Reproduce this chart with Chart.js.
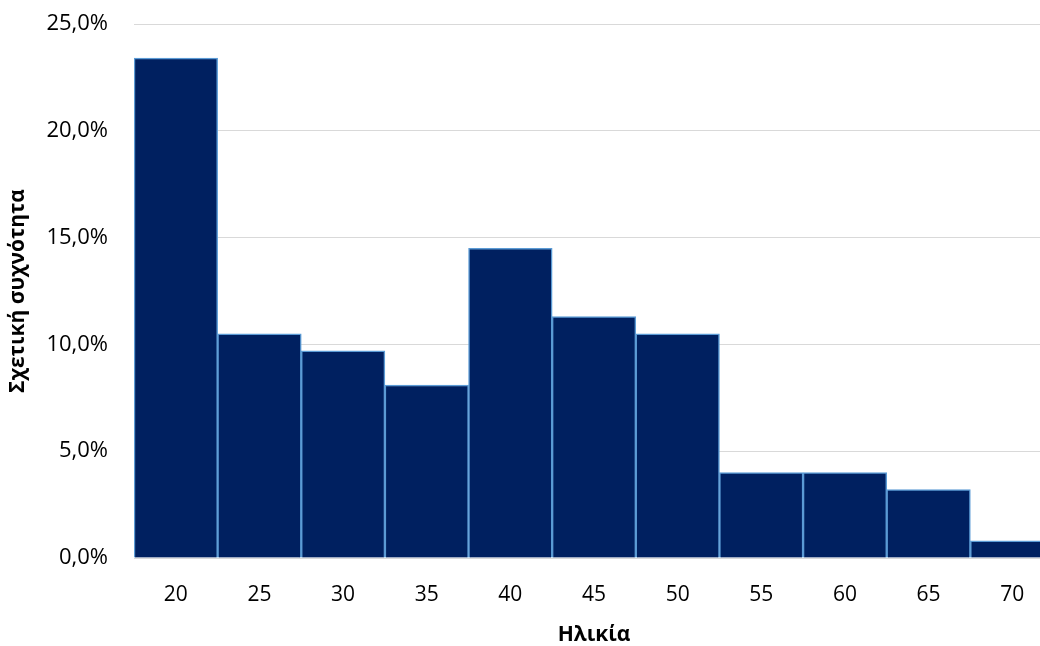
<!DOCTYPE html>
<html>
<head>
<meta charset="utf-8">
<script src="https://cdn.jsdelivr.net/npm/chart.js@4"></script>
<style>
  html, body { margin: 0; padding: 0; background: #fff; overflow: hidden; width: 1040px; height: 646px; }
  #wrap { position: relative; width: 1060px; height: 646px; }
</style>
</head>
<body>
<div id="wrap"><canvas id="c"></canvas></div>
<script>
// Age classes (lower class label) and relative frequency in percent
const ageClasses = ['20', '25', '30', '35', '40', '45', '50', '55', '60', '65', '70'];
const relFreq = [23.4, 10.5, 9.7, 8.1, 14.5, 11.3, 10.5, 4.0, 4.0, 3.2, 0.8];
const yTicks = [0, 5, 10, 15, 20, 25];

const FONT = "'Open Sans', 'Noto Sans', sans-serif";

new Chart(document.getElementById('c'), {
  type: 'bar',
  data: {
    labels: ageClasses,
    datasets: [{
      data: relFreq,
      backgroundColor: '#002060',
      borderColor: '#5B9BD5',
      borderWidth: 1.5,
      barPercentage: 1,
      categoryPercentage: 1
    }]
  },
  options: {
    responsive: true,
    maintainAspectRatio: false,
    animation: false,
    layout: { padding: { top: 24, right: 6, left: 0, bottom: 0 } },
    plugins: { legend: { display: false }, tooltip: { enabled: false } },
    scales: {
      x: {
        grid: { display: false, drawTicks: false },
        border: { display: true, color: '#d9d9d9', width: 1 },
        ticks: { color: '#000', font: { family: FONT, size: 21 }, padding: 24, maxRotation: 0 },
        title: { display: true, text: 'Ηλικία', color: '#000', font: { family: FONT, size: 21, weight: 'bold' }, padding: { top: 0, bottom: -2 } },
        afterFit: s => { s.height = 88; }
      },
      y: {
        min: 0,
        max: 25,
        afterBuildTicks: s => { s.ticks = yTicks.map(v => ({ value: v })); },
        grid: { color: '#d9d9d9', lineWidth: 1, drawTicks: true, tickLength: 26, tickColor: 'rgba(0,0,0,0)' },
        border: { display: false },
        ticks: {
          color: '#000',
          font: { family: FONT, size: 22 },
          padding: 0,
          callback: v => v.toFixed(1).replace('.', ',') + '%'
        },
        title: { display: true, text: 'Σχετική συχνότητα', color: '#000', font: { family: FONT, size: 21, weight: 'bold' }, padding: { top: 5, bottom: 0 } },
        afterFit: s => { s.width = 134; }
      }
    }
  }
});
</script>
</body>
</html>
